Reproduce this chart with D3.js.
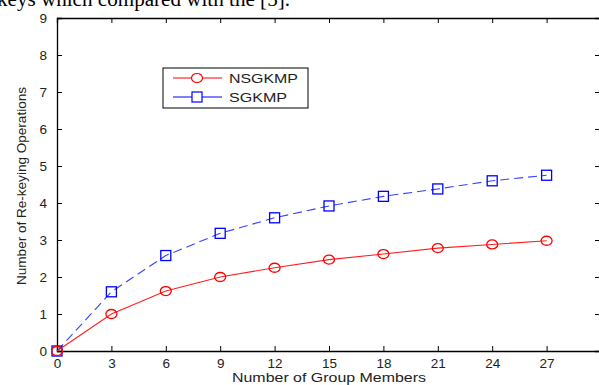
<!DOCTYPE html>
<html>
<head>
<meta charset="utf-8">
<script src="https://cdn.jsdelivr.net/npm/d3@7"></script>
<style>
  body { margin: 0; background: white; }
  svg { display: block; }
</style>
</head>
<body>
<div id="chart"></div>
<script>
// chart data
const members = [0, 3, 6, 9, 12, 15, 18, 21, 24, 27];
const nsgkmp = [0, 1.0, 1.62, 2.0, 2.25, 2.47, 2.62, 2.78, 2.88, 2.98];
const sgkmp = [0, 1.6, 2.58, 3.18, 3.6, 3.92, 4.18, 4.38, 4.6, 4.75];
const xTicks = [0, 3, 6, 9, 12, 15, 18, 21, 24, 27];
const yTicks = [0, 1, 2, 3, 4, 5, 6, 7, 8, 9];

const width = 599, height = 385;
const plotLeft = 57, plotRight = 601, plotTop = 18, plotBottom = 351;

const svg = d3.select("#chart").append("svg")
  .attr("width", width).attr("height", height);

const x = d3.scaleLinear().domain([0, 30]).range([plotLeft, plotRight]);
const y = d3.scaleLinear().domain([0, 9]).range([plotBottom, plotTop]);

// cropped caption text from the paper above
svg.append("text")
  .attr("x", -3).attr("y", 6)
  .attr("font-family", "Liberation Serif, Times New Roman, serif")
  .attr("font-size", 20)
  .attr("textLength", 293).attr("lengthAdjust", "spacingAndGlyphs")
  .text("keys which compared with the [5].");

// axes, MATLAB style: ticks inward on all four sides
const font = "Liberation Sans, Arial, sans-serif";
svg.append("g").attr("transform", `translate(0,${plotBottom})`)
  .call(d3.axisBottom(x).tickValues(xTicks).tickSize(-5).tickPadding(7));
svg.append("g").attr("transform", `translate(${plotLeft},0)`)
  .call(d3.axisLeft(y).tickValues(yTicks).tickSize(-5).tickPadding(10));
svg.append("g").attr("transform", `translate(0,${plotTop})`)
  .call(d3.axisTop(x).tickValues(xTicks).tickSize(-5).tickFormat(""));
svg.append("g").attr("transform", `translate(${plotRight - 1},0)`)
  .call(d3.axisRight(y).tickValues(yTicks).tickSize(-5).tickFormat(""));

svg.selectAll(".domain").attr("stroke", "#000").attr("stroke-width", 1.3);
svg.selectAll(".tick line").attr("stroke", "#000");
svg.selectAll(".tick text")
  .attr("font-family", font).attr("font-size", 13.5).attr("fill", "#222");

// axis labels
svg.append("text")
  .attr("x", 232).attr("y", 382)
  .attr("font-family", font).attr("font-size", 13).attr("fill", "#222")
  .attr("textLength", 194).attr("lengthAdjust", "spacingAndGlyphs")
  .text("Number of Group Members");
svg.append("text")
  .attr("transform", `translate(26,285) rotate(-90)`)
  .attr("font-family", font).attr("font-size", 12.5).attr("fill", "#222")
  .attr("textLength", 198).attr("lengthAdjust", "spacingAndGlyphs")
  .text("Number of Re-keying Operations");

const line = d3.line()
  .x((d, i) => x(members[i]))
  .y(d => y(d));

// SGKMP (blue dashed, squares)
svg.append("path")
  .datum(sgkmp)
  .attr("d", line)
  .attr("fill", "none")
  .attr("stroke", "#3344ff")
  .attr("stroke-width", 1.1)
  .attr("stroke-dasharray", "9,5");
svg.selectAll(".sq")
  .data(sgkmp)
  .enter().append("rect")
  .attr("class", "sq")
  .attr("x", (d, i) => x(members[i]) - 5)
  .attr("y", d => y(d) - 5)
  .attr("width", 10).attr("height", 10)
  .attr("fill", "none").attr("stroke", "#0000ff").attr("stroke-width", 1.3);

// NSGKMP (red solid, circles)
svg.append("path")
  .datum(nsgkmp)
  .attr("d", line)
  .attr("fill", "none")
  .attr("stroke", "#ff2020")
  .attr("stroke-width", 1.1);
svg.selectAll(".ci")
  .data(nsgkmp)
  .enter().append("ellipse")
  .attr("class", "ci")
  .attr("cx", (d, i) => x(members[i]))
  .attr("cy", d => y(d))
  .attr("rx", 5.5).attr("ry", 4.5)
  .attr("fill", "none").attr("stroke", "#ff0000").attr("stroke-width", 1.3);

// legend
const legend = svg.append("g");
legend.append("rect")
  .attr("x", 163).attr("y", 68).attr("width", 145).attr("height", 40)
  .attr("fill", "white").attr("stroke", "#000").attr("stroke-width", 1);
const entries = [
  { name: "NSGKMP", color: "#ff0000", shape: "circle", len: 69 },
  { name: "SGKMP", color: "#0000ff", shape: "square", len: 58 }
];
entries.forEach((e, i) => {
  const yy = 78 + i * 19;
  legend.append("line")
    .attr("x1", 173).attr("x2", 222).attr("y1", yy).attr("y2", yy)
    .attr("stroke", e.color).attr("stroke-width", 1);
  if (e.shape === "circle") {
    legend.append("ellipse").attr("cx", 197).attr("cy", yy).attr("rx", 5.5).attr("ry", 4.5)
      .attr("fill", "white").attr("stroke", e.color).attr("stroke-width", 1.2);
  } else {
    legend.append("rect").attr("x", 192).attr("y", yy - 5).attr("width", 10).attr("height", 10)
      .attr("fill", "white").attr("stroke", e.color).attr("stroke-width", 1.2);
  }
  legend.append("text")
    .attr("x", 229).attr("y", yy + 5)
    .attr("font-family", font).attr("font-size", 13.5).attr("fill", "#222")
    .attr("textLength", e.len).attr("lengthAdjust", "spacingAndGlyphs")
    .text(e.name);
});
</script>
</body>
</html>
